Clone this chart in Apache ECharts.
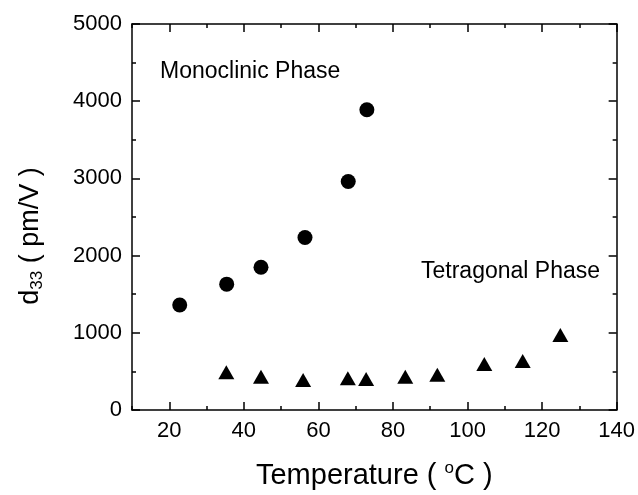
<!DOCTYPE html>
<html>
<head>
<meta charset="utf-8">
<script src="https://cdn.jsdelivr.net/npm/echarts@6/dist/echarts.min.js"></script>
<style>
  html, body { margin: 0; padding: 0; background: #fff; }
  #chart { width: 638px; height: 495px; }
</style>
</head>
<body>
<div id="chart"></div>
<script>
// 单斜相 (circles)
const monoTemp = [22.8, 35.4, 44.6, 56.4, 68.0, 73.0];
const monoD33 = [1360, 1630, 1850, 2235, 2960, 3890];
// 四方相 (triangles)
const tetraTemp = [35.3, 44.6, 55.9, 67.9, 72.8, 83.3, 91.9, 104.5, 114.8, 124.9];
const tetraD33 = [490, 430, 390, 410, 400, 430, 455, 595, 635, 970];
// tick labels
const xLabels = [20, 40, 60, 80, 100, 120, 140];

const FONT = 'Liberation Sans';
const lineStyle = { color: '#000', width: 1.5 };

const chart = echarts.init(document.getElementById('chart'));

const xBase = { type: 'value', min: 10, max: 140, interval: 10, splitLine: { show: false } };
const yBase = { type: 'value', min: 0, max: 5000, interval: 1000, splitLine: { show: false } };

const option = {
  animation: false,
  backgroundColor: '#fff',
  textStyle: { fontFamily: FONT, color: '#000' },
  grid: { left: 132, right: 19, top: 24, bottom: 84 },
  xAxis: [
    {
      ...xBase,
      position: 'bottom',
      axisLine: { lineStyle },
      axisTick: { inside: true, length: 8, customValues: xLabels, lineStyle },
      axisLabel: { customValues: xLabels, fontSize: 22, color: '#000', margin: 10, fontFamily: FONT },
      name: '{t|Temperature ( }{o|o}{t|C )}',
      nameLocation: 'middle',
      nameGap: 50,
      nameTextStyle: {
        rich: {
          t: { fontSize: 29, fontFamily: FONT, color: '#000' },
          o: { fontSize: 17, fontFamily: FONT, color: '#000', padding: [0, 0, 14, 0] },
        },
      },
    },
    {
      ...xBase,
      position: 'bottom',
      axisLine: { show: false },
      axisTick: { inside: true, length: 4, lineStyle },
      axisLabel: { show: false },
    },
    {
      ...xBase,
      position: 'top',
      axisLine: { lineStyle },
      axisTick: { inside: true, length: 8, customValues: xLabels, lineStyle },
      axisLabel: { show: false },
    },
    {
      ...xBase,
      position: 'top',
      axisLine: { show: false },
      axisTick: { inside: true, length: 4, lineStyle },
      axisLabel: { show: false },
    },
  ],
  yAxis: [
    {
      ...yBase,
      position: 'left',
      axisLine: { lineStyle },
      axisTick: { inside: true, length: 8, lineStyle },
      minorTick: { show: true, splitNumber: 2, length: 4, lineStyle },
      axisLabel: { fontSize: 22, color: '#000', margin: 10, fontFamily: FONT, formatter: v => String(v) },
      name: '{d|d}{s|33}{d| ( pm/V )}',
      nameLocation: 'middle',
      nameGap: 86,
      nameTextStyle: {
        padding: [0, 38, 0, 0],
        rich: {
          d: { fontSize: 27, fontFamily: FONT, color: '#000' },
          s: { fontSize: 17, fontFamily: FONT, color: '#000', padding: [14, 0, 0, 0] },
        },
      },
    },
    {
      ...yBase,
      position: 'right',
      axisLine: { lineStyle },
      axisTick: { inside: true, length: 8, lineStyle },
      minorTick: { show: true, splitNumber: 2, length: 4, lineStyle },
      axisLabel: { show: false },
    },
  ],
  graphic: [
    {
      type: 'text',
      left: 160,
      top: 60,
      style: { text: 'Monoclinic Phase', fontSize: 23, fontFamily: FONT, fill: '#000' },
    },
    {
      type: 'text',
      left: 421,
      top: 260,
      style: { text: 'Tetragonal Phase', fontSize: 23, fontFamily: FONT, fill: '#000' },
    },
  ],
  series: [
    {
      name: 'Monoclinic',
      type: 'scatter',
      symbol: 'circle',
      symbolSize: 15,
      itemStyle: { color: '#000', opacity: 1 },
      data: monoTemp.map((t, i) => [t, monoD33[i]]),
    },
    {
      name: 'Tetragonal',
      type: 'scatter',
      symbol: 'triangle',
      symbolSize: [16, 14],
      itemStyle: { color: '#000', opacity: 1 },
      data: tetraTemp.map((t, i) => [t, tetraD33[i]]),
    },
  ],
};

chart.setOption(option);
</script>
</body>
</html>
